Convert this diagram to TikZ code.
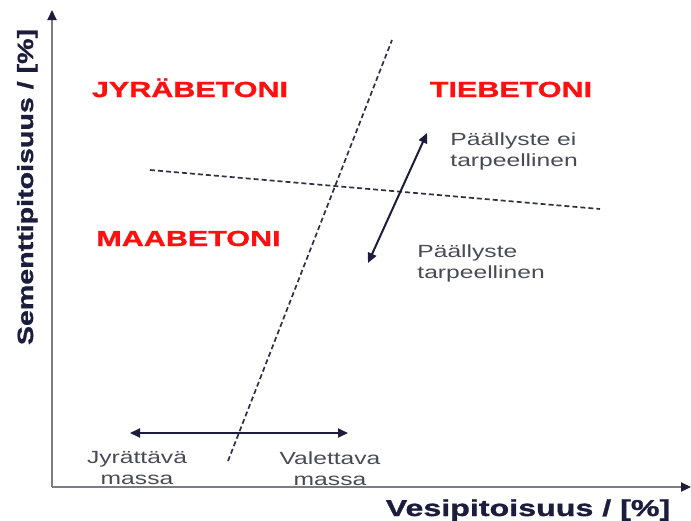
\documentclass[tikz,border=0pt]{standalone}
\usepackage{fontspec}
\setmainfont{Liberation Sans}
\newfontfamily\widefont[FakeStretch=1.4]{Liberation Sans}
\newfontfamily\heavyfont[FakeStretch=1.4,FakeBold=1.2]{Liberation Sans Bold}
\newfontfamily\ylabfont[FakeStretch=1.3,FakeBold=1.2]{Liberation Sans Bold}
\usetikzlibrary{positioning,arrows.meta}
\definecolor{betonired}{HTML}{FF1010}
\definecolor{axisnavy}{HTML}{1C1C3C}
\definecolor{axisgray}{HTML}{7C7C88}
\definecolor{notegray}{HTML}{4A4A55}
\definecolor{dashnavy}{HTML}{303044}
\tikzset{
  >={Triangle[length=5pt,width=4.5pt]},
  zone/.style={font=\heavyfont\fontsize{10.9}{13}\selectfont, text=betonired, inner sep=0pt, anchor=base},
  note/.style={font=\widefont\fontsize{8.8}{10.5}\selectfont, text=notegray, inner sep=0pt},
  axlabel/.style={font=\heavyfont\fontsize{11.5}{14}\selectfont, text=axisnavy, inner sep=0pt, anchor=base},
  axisline/.style={axisgray, line width=1.1pt, -{Triangle[length=5pt,width=4.5pt,color=axisnavy]}},
  limit/.style={dashnavy, line width=0.85pt, dash pattern=on 2.5pt off 1.5pt},
  trend/.style={<->, axisnavy, line width=1pt},
}
\begin{document}
\begin{tikzpicture}[x=0.5pt,y=-0.5pt]
\useasboundingbox (0,0) rectangle (691,520);

% axes
\coordinate (origin) at (52,487);
\coordinate (ytop) at (52,10);
\coordinate (xend) at (691,487);
\draw[axisline] (origin) -- (ytop);
\draw[axisline] (origin) -- (xend);

\node[axlabel] (xlab) at (528,516) {Vesipitoisuus / [\%]};
\node[axlabel, font=\ylabfont\fontsize{11}{14}\selectfont, rotate=90] (ylab) at (33,187) {Sementtipitoisuus / [\%]};

% regions
\node[zone] (jyra) at (190,97) {JYRÄBETONI};
\node[zone] (tie) at (511,97) {TIEBETONI};
\node[zone] (maa) at (188.5,246) {MAABETONI};

% boundaries
\coordinate (steeplow) at (228,461);
\coordinate (steephigh) at (392,40);
\coordinate (flatleft) at (150,170);
\coordinate (flatright) at (600,209);
\draw[limit] (steeplow) -- (steephigh);
\draw[limit] (flatleft) -- (flatright);

% trends
\coordinate (hardtop) at (427,133);
\coordinate (hardbot) at (368,263);
\draw[trend] (hardbot) -- (hardtop);
\node[note, align=left, anchor=north west] (eipaal) at (450,132) {Päällyste ei\\tarpeellinen};
\node[note, align=left, anchor=north west] (paal) at (417,244) {Päällyste\\tarpeellinen};

\coordinate (rollend) at (130,433);
\coordinate (castend) at (348,433);
\draw[trend] (rollend) -- (castend);
\node[note, align=center, anchor=north] (jyrmassa) at (137,451) {Jyrättävä\\massa};
\node[note, align=center, anchor=north] (valmassa) at (330,451) {Valettava\\massa};

\end{tikzpicture}
\end{document}
